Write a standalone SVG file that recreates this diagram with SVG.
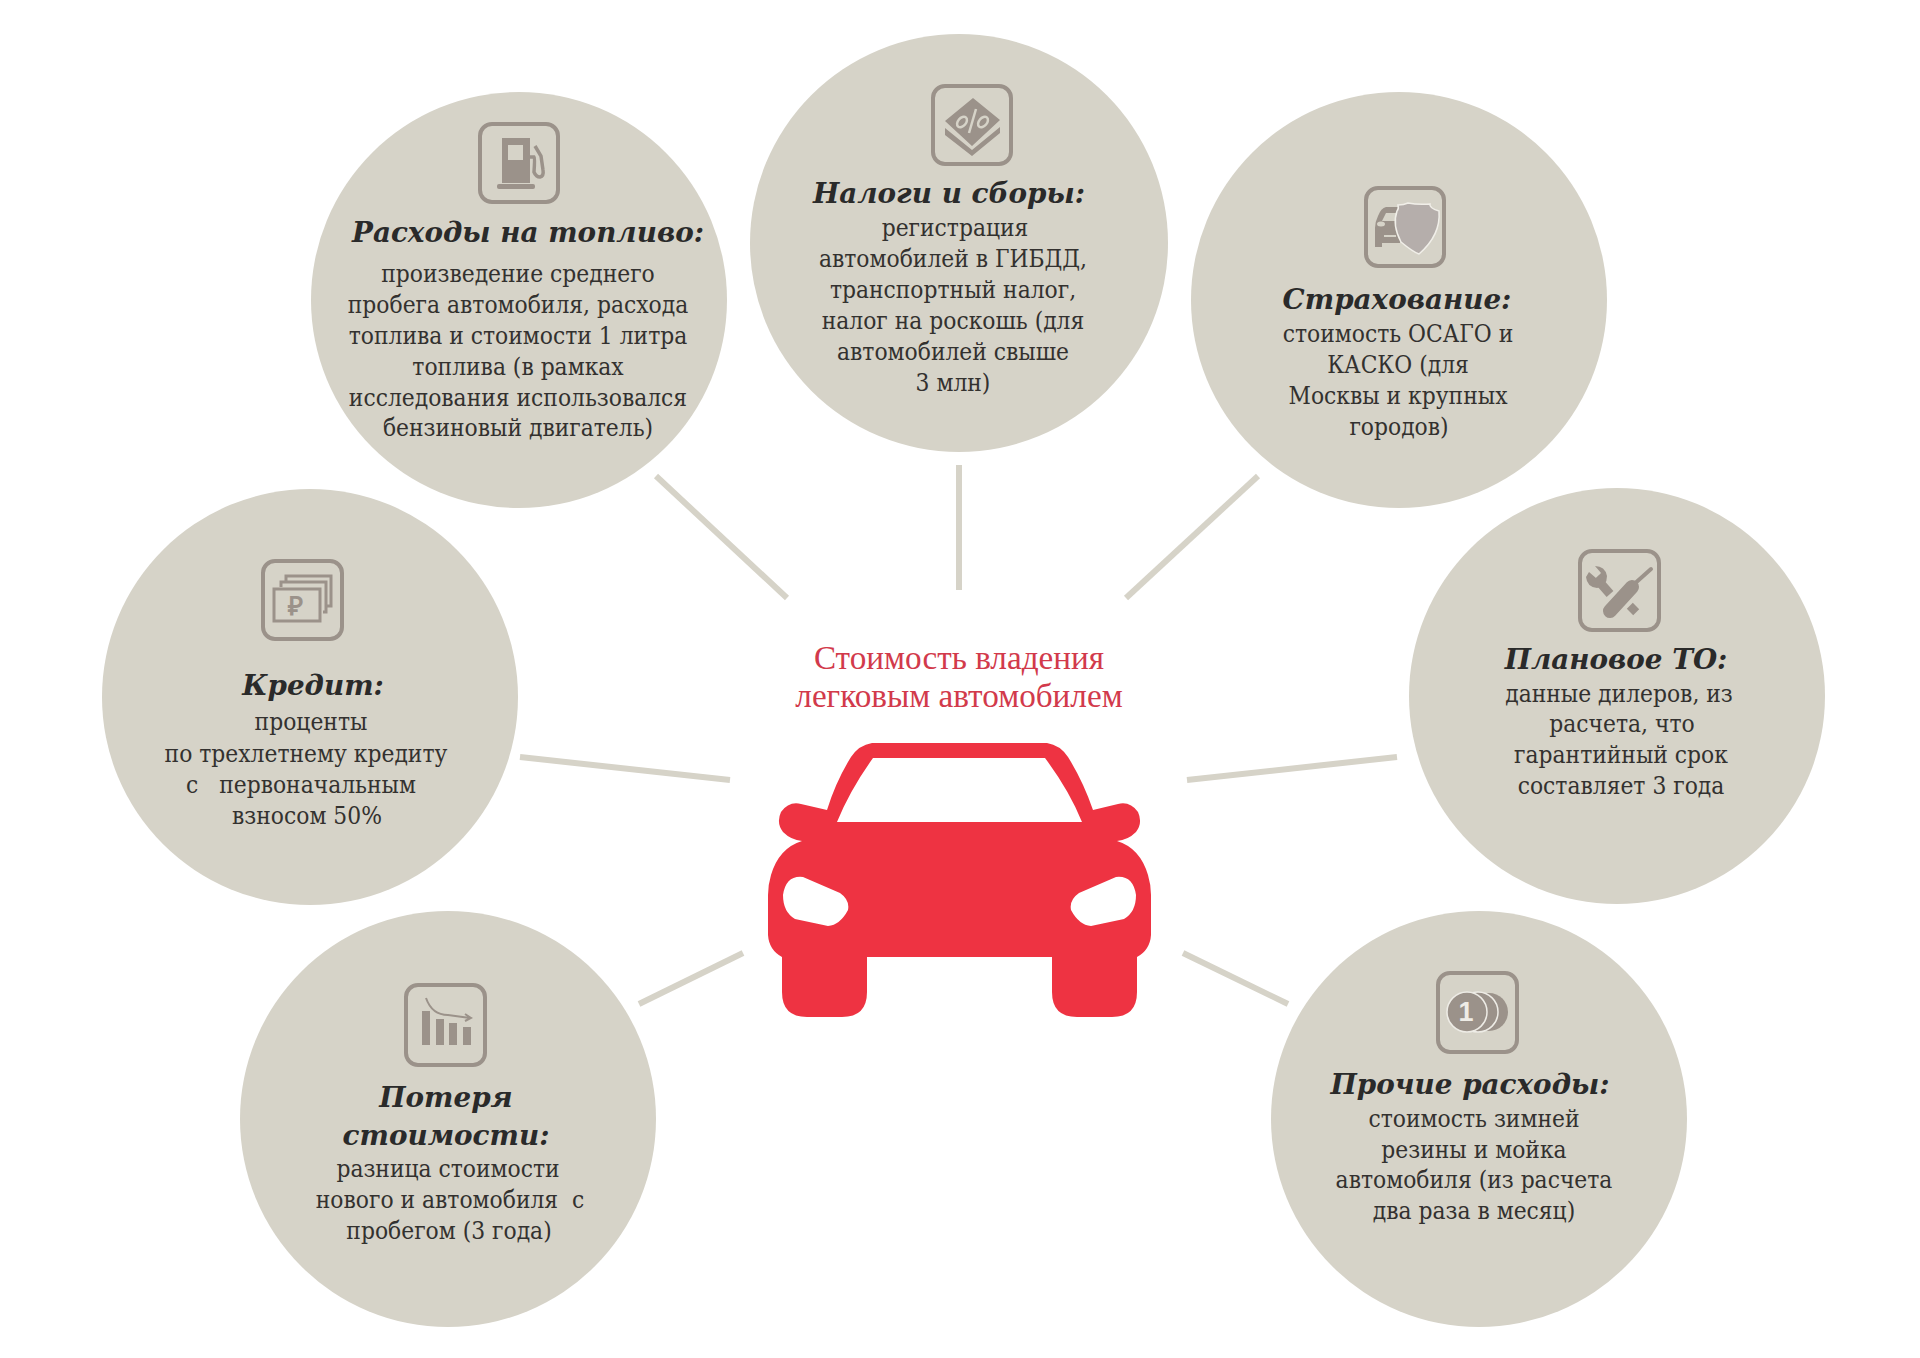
<svg xmlns="http://www.w3.org/2000/svg" width="1920" height="1358" viewBox="0 0 1920 1358">
<style>
.c{fill:#d6d3c8}
.h{font:italic 700 27.8px "DejaVu Serif","Liberation Serif",serif;fill:#2a2a2a;text-anchor:middle}
.b{font:400 24.3px "DejaVu Serif Condensed","DejaVu Serif","Liberation Serif",serif;fill:#33312f;text-anchor:middle}
.t{font:400 33.2px "Liberation Serif",serif;fill:#d23a4b;text-anchor:middle}
.f{fill:#9b928a}
.s{fill:none;stroke:#9b928a;stroke-width:4}
.l{stroke:#d6d3c8;stroke-width:6;fill:none}
</style>
<rect width="1920" height="1358" fill="#fff"/>
<g id="connectors" class="l">
<path d="M656 476L787 598"/><path d="M959 465V590"/><path d="M1258 476L1126 598"/><path d="M1397 757L1187 780"/><path d="M520 757L730 780"/><path d="M743 953L639 1004"/><path d="M1183 953L1288 1004"/>
</g>
<g id="center-car">
<text class="t" x="959" y="669">Стоимость владения</text>
<text class="t" x="959" y="707">легковым автомобилем</text>
<path fill="#ee3342" fill-rule="evenodd" d="M872 743H1047Q1060 745 1068 757Q1083 781 1093 810L1118 804Q1130 801 1138 812Q1143 823 1136 832Q1128 840 1117 841Q1140 848 1148 875Q1151 885 1151 895V935Q1150 950 1137 957V992Q1137 1017 1112 1017H1077Q1052 1017 1052 992V957H867V992Q867 1017 842 1017H807Q782 1017 782 992V957Q769 950 768 935V895Q768 885 771 875Q779 848 802 841Q791 840 783 832Q776 823 781 812Q789 801 801 804L827 810Q836 781 851 757Q859 745 872 743ZM873 758Q850 790 837 822H1082Q1069 790 1045 758ZM803 877Q786 875 783 895Q783 912 795 919L828 926Q840 925 848 910Q850 900 840 893ZM1116 877Q1133 875 1136 895Q1136 912 1124 919L1091 926Q1079 925 1071 910Q1069 900 1079 893Z"/>
</g>
<g id="node-fuel">
<circle class="c" cx="519" cy="300" r="208"/>
<rect class="s" x="480" y="124" width="78" height="78" rx="12"/>
<path class="f" d="M502 138H530V183H502ZM508 145V160H523V145Z" fill-rule="evenodd"/><rect class="f" x="497" y="184" width="38" height="5" rx="2"/>
<path class="s" style="stroke-width:3.5" d="M530 157H534Q535 158 534 172Q536 177 540 177Q544 176 543 170L541 156L535 146"/>
<text class="h" x="528" y="242">Расходы на топливо:</text>
<text class="b" x="518" y="282">произведение среднего</text>
<text class="b" x="518" y="313">пробега автомобиля, расхода</text>
<text class="b" x="518" y="344">топлива и стоимости 1 литра</text>
<text class="b" x="518" y="375">топлива (в рамках</text>
<text class="b" x="518" y="406">исследования использовался</text>
<text class="b" x="518" y="436">бензиновый двигатель)</text>
</g>
<g id="node-tax">
<circle class="c" cx="959" cy="243" r="209"/>
<rect class="s" x="933" y="86" width="78" height="78" rx="12"/>
<path class="f" d="M973 98L1000 120L972 146L945 121ZM945 128L972 150L1000 127V133L972 156L945 135Z"/>
<path d="M976 109L969 133" stroke="#d6d3c8" stroke-width="2.5"/>
<ellipse cx="962" cy="122" rx="4" ry="6" fill="none" stroke="#d6d3c8" stroke-width="2.5" transform="rotate(40 962 122)"/>
<ellipse cx="983" cy="122" rx="4" ry="6" fill="none" stroke="#d6d3c8" stroke-width="2.5" transform="rotate(40 983 122)"/>
<text class="h" x="949" y="203">Налоги и сборы:</text>
<text class="b" x="955" y="236">регистрация</text>
<text class="b" x="953" y="267">автомобилей в ГИБДД,</text>
<text class="b" x="953" y="298">транспортный налог,</text>
<text class="b" x="953" y="329">налог на роскошь (для</text>
<text class="b" x="953" y="360">автомобилей свыше</text>
<text class="b" x="953" y="391">3 млн)</text>
</g>
<g id="node-insurance">
<circle class="c" cx="1399" cy="300" r="208"/>
<rect class="s" x="1366" y="188" width="78" height="78" rx="12"/>
<path class="f" fill-rule="evenodd" d="M1400 207H1386Q1381 208 1378 216Q1375 222 1375 228V247H1382V243H1400ZM1386 213H1399V221H1382Z"/>
<ellipse cx="1381" cy="224" rx="4" ry="2.5" fill="#d6d3c8"/><path d="M1384 236H1396" stroke="#d6d3c8" stroke-width="2"/>
<path fill="#b5aeab" stroke="#f1efe9" stroke-width="1.5" d="M1398 205Q1404 205 1408 203Q1418 205 1430 204Q1429 208 1439 211Q1441 235 1419 254Q1413 252 1401 242Q1392 225 1397 211Q1399 209 1398 205Z"/>
<text class="h" x="1397" y="309">Страхование:</text>
<text class="b" x="1398" y="342">стоимость ОСАГО и</text>
<text class="b" x="1398" y="373">КАСКО (для</text>
<text class="b" x="1398" y="404">Москвы и крупных</text>
<text class="b" x="1399" y="435">городов)</text>
</g>
<g id="node-to">
<circle class="c" cx="1617" cy="696" r="208"/>
<rect class="s" x="1580" y="551" width="79" height="79" rx="12"/>
<path d="M1596 578L1610 594" stroke="#9b928a" stroke-width="9"/>
<path class="f" d="M1595 566Q1605 566 1607 576Q1607 586 1597 588Q1587 587 1586 577L1589 572L1596 578L1601 573Z"/>
<path d="M1651 569L1632 586" stroke="#9b928a" stroke-width="4" stroke-linecap="round"/>
<path d="M1632 587L1610 611" stroke="#9b928a" stroke-width="14" stroke-linecap="round"/>
<path d="M1630 612L1636 606" stroke="#9b928a" stroke-width="9"/>
<text class="h" x="1616" y="669">Плановое ТО:</text>
<text class="b" x="1619" y="702">данные дилеров, из</text>
<text class="b" x="1622" y="732">расчета, что</text>
<text class="b" x="1621" y="763">гарантийный срок</text>
<text class="b" x="1621" y="794">составляет 3 года</text>
</g>
<g id="node-other">
<circle class="c" cx="1479" cy="1119" r="208"/>
<rect class="s" x="1438" y="973" width="79" height="79" rx="12"/>
<circle class="f" cx="1489" cy="1012" r="19"/>
<circle class="f" cx="1478" cy="1012" r="20" stroke="#eeece6" stroke-width="1.5"/>
<circle class="f" cx="1467" cy="1012" r="20" stroke="#eeece6" stroke-width="1.5"/>
<text x="1466" y="1021" style="font:700 27px 'Liberation Sans',sans-serif;fill:#eeece6;text-anchor:middle">1</text>
<text class="h" x="1470" y="1094">Прочие расходы:</text>
<text class="b" x="1474" y="1127">стоимость зимней</text>
<text class="b" x="1474" y="1158">резины и мойка</text>
<text class="b" x="1474" y="1188">автомобиля (из расчета</text>
<text class="b" x="1474" y="1219">два раза в месяц)</text>
</g>
<g id="node-loss">
<circle class="c" cx="448" cy="1119" r="208"/>
<rect class="s" x="406" y="985" width="79" height="80" rx="12"/>
<path class="f" d="M422 1011H430V1045H422ZM436 1019H444V1045H436ZM449 1023H457V1045H449ZM463 1027H471V1045H463Z"/>
<path class="s" style="stroke-width:2" d="M426 998Q432 1015 448 1015L470 1018M465 1014L471 1018L465 1021"/>
<text class="h" x="446" y="1107">Потеря</text>
<text class="h" x="446" y="1145">стоимости:</text>
<text class="b" x="448" y="1177">разница стоимости</text>
<text class="b" x="450" y="1208" xml:space="preserve">нового и автомобиля  с</text>
<text class="b" x="449" y="1239">пробегом (3 года)</text>
</g>
<g id="node-credit">
<circle class="c" cx="310" cy="697" r="208"/>
<rect class="s" x="263" y="561" width="79" height="78" rx="12"/>
<path class="s" style="stroke-width:3" d="M286 581V576H331V606H327M281 587V582H326V612H323M274 589H320V621H274Z"/>
<text x="295" y="615" style="font:700 26px 'Liberation Serif',serif;fill:#9b928a;text-anchor:middle">₽</text>
<text class="h" x="313" y="695">Кредит:</text>
<text class="b" x="311" y="730">проценты</text>
<text class="b" x="306" y="762">по трехлетнему кредиту</text>
<text class="b" x="301" y="793" xml:space="preserve">с   первоначальным</text>
<text class="b" x="307" y="824">взносом 50%</text>
</g>
</svg>
